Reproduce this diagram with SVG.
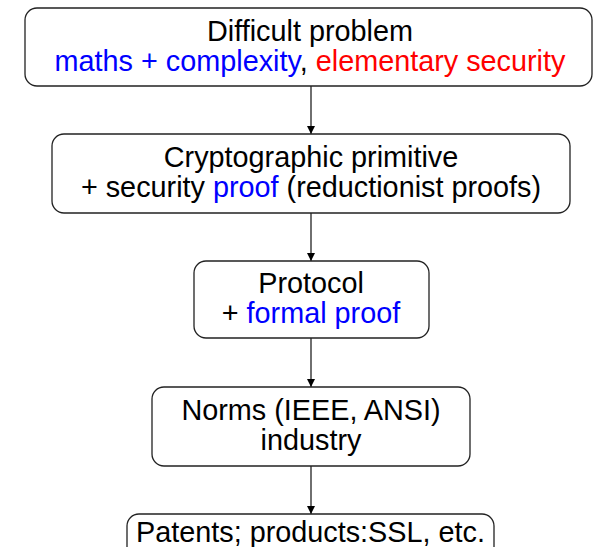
<svg xmlns="http://www.w3.org/2000/svg" width="594" height="547" viewBox="0 0 594 547">
<style>
.box{fill:#fff;stroke:#222;stroke-width:1.3}
text{font-family:"Liberation Sans",Arial,sans-serif;font-size:28.8px;fill:#000;text-anchor:middle}
.b{fill:#0000ff}
.r{fill:#ff0000}
.conn line{stroke:#222;stroke-width:1.3}
</style>
<defs>
<marker id="ah" viewBox="0 0 10 10" refX="10" refY="5" markerWidth="8" markerHeight="8" markerUnits="userSpaceOnUse" orient="auto">
<path d="M0,0 L10,5 L0,10 z" fill="#000"/>
</marker>
</defs>
<rect width="594" height="547" fill="#fff"/>
<g id="connectors" class="conn">
<line x1="311" y1="86" x2="311" y2="134" marker-end="url(#ah)"/>
<line x1="311" y1="213" x2="311" y2="261" marker-end="url(#ah)"/>
<line x1="311" y1="338" x2="311" y2="387" marker-end="url(#ah)"/>
<line x1="311" y1="466" x2="311" y2="514" marker-end="url(#ah)"/>
</g>
<g id="difficult-problem">
<rect class="box" x="25" y="8" width="567" height="78" rx="12"/>
<text x="310" y="41">Difficult problem</text>
<text x="310" y="71"><tspan class="b">maths + complexity</tspan>, <tspan class="r">elementary security</tspan></text>
</g>
<g id="cryptographic-primitive">
<rect class="box" x="52" y="134" width="518" height="79" rx="12"/>
<text x="311" y="167">Cryptographic primitive</text>
<text x="311" y="197">+ security <tspan class="b">proof</tspan> (reductionist proofs)</text>
</g>
<g id="protocol">
<rect class="box" x="194" y="261" width="235" height="77" rx="12"/>
<text x="311" y="293">Protocol</text>
<text x="311" y="323">+ <tspan class="b">formal proof</tspan></text>
</g>
<g id="norms">
<rect class="box" x="152" y="387" width="318" height="79" rx="12"/>
<text x="311" y="420">Norms (IEEE, ANSI)</text>
<text x="311" y="450">industry</text>
</g>
<g id="patents">
<rect class="box" x="127" y="514" width="367" height="60" rx="12"/>
<text x="310.5" y="542">Patents; products:SSL, etc.</text>
</g>
</svg>
